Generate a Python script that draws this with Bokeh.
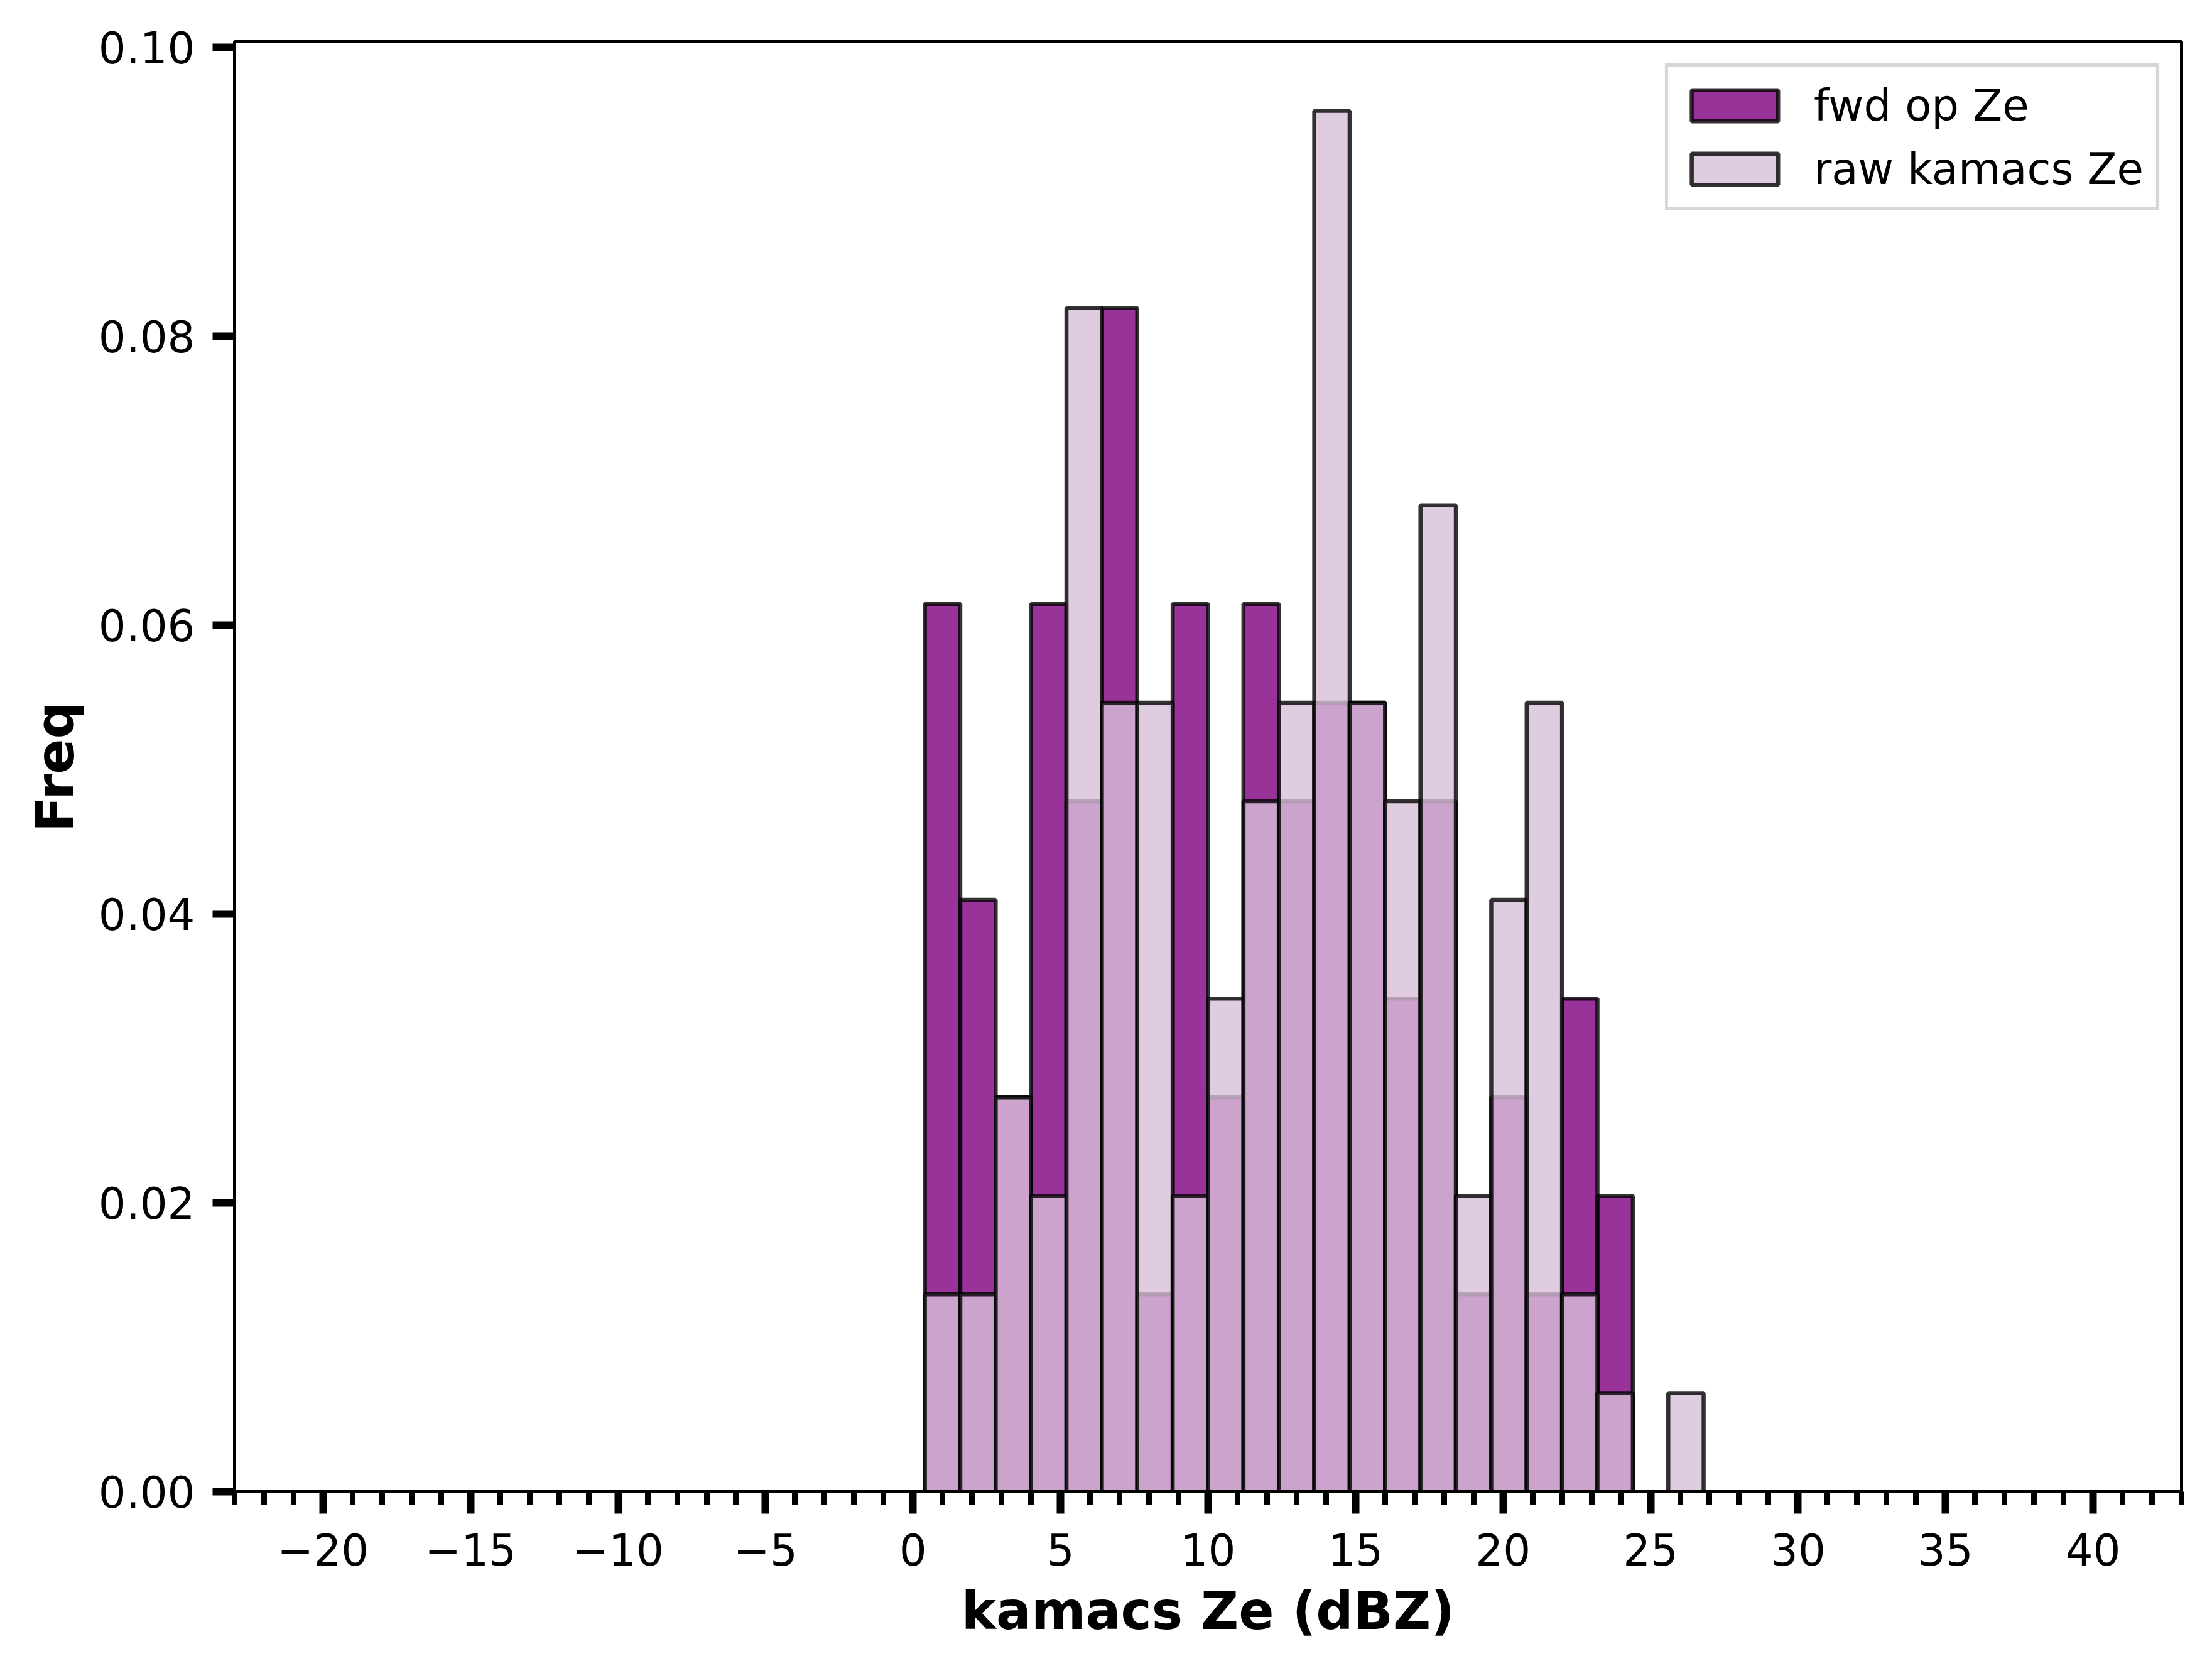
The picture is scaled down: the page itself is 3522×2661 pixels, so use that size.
from bokeh.plotting import figure
from bokeh.models import Range1d, FixedTicker, PrintfTickFormatter, ColumnDataSource
from bokeh.embed import file_html
from bokeh.resources import INLINE

# ---- data ----
bin_edges = [0.4, 1.6, 2.8, 4.0, 5.2, 6.4, 7.6, 8.8, 10.0, 11.2, 12.4, 13.6,
             14.8, 16.0, 17.2, 18.4, 19.6, 20.8, 22.0, 23.2, 24.4, 25.6, 26.8]
fwd_counts = [9, 6, 4, 9, 7, 12, 2, 9, 4, 9, 7, 8, 8, 5, 7, 2, 4, 2, 5, 3, 0, 0]
raw_counts = [2, 2, 4, 3, 12, 8, 8, 3, 5, 7, 8, 14, 8, 7, 10, 3, 6, 8, 2, 1, 0, 1]
x_major_ticks = [-20, -15, -10, -5, 0, 5, 10, 15, 20, 25, 30, 35, 40]
x_minor_ticks = list(range(-23, 44))
y_ticks = [0.0, 0.02, 0.04, 0.06, 0.08, 0.10]
series_labels = ["fwd op Ze", "raw kamacs Ze"]


def density_source(counts):
    total = sum(counts)
    left, right, top = [], [], []
    for i, c in enumerate(counts):
        if c == 0:
            continue
        w = bin_edges[i + 1] - bin_edges[i]
        left.append(bin_edges[i])
        right.append(bin_edges[i + 1])
        top.append(c / (total * w))
    return ColumnDataSource(dict(left=left, right=right, top=top, bottom=[0.0] * len(top)))


fwd_src = density_source(fwd_counts)
raw_src = density_source(raw_counts)
ymax = max(raw_src.data["top"] + fwd_src.data["top"]) * 1.05

p = figure(width=3506, height=2645, output_backend="svg", toolbar_location=None,
           x_range=Range1d(-23, 43), y_range=Range1d(0, ymax))
p.min_border_left = 373
p.min_border_right = 33
p.min_border_top = 66
p.min_border_bottom = 270
p.background_fill_color = "white"
p.border_fill_color = "white"
p.grid.visible = False
p.outline_line_color = "black"
p.outline_line_width = 5
p.outline_line_alpha = 1.0

p.quad(left="left", right="right", top="top", bottom="bottom", source=fwd_src,
       fill_color="purple", fill_alpha=0.8, line_color="black", line_alpha=0.8,
       line_width=6.5, legend_label=series_labels[0])
p.quad(left="left", right="right", top="top", bottom="bottom", source=raw_src,
       fill_color="thistle", fill_alpha=0.8, line_color="black", line_alpha=0.8,
       line_width=6.5, legend_label=series_labels[1])

# axes
xa = p.xaxis[0]
xa.ticker = FixedTicker(ticks=x_major_ticks, minor_ticks=x_minor_ticks)
xa.major_label_overrides = {t: (str(t).replace("-", "\u2212")) for t in x_major_ticks}
ya = p.yaxis[0]
ya.ticker = FixedTicker(ticks=y_ticks, minor_ticks=[])
ya.formatter = PrintfTickFormatter(format="%.2f")

for ax in (xa, ya):
    ax.axis_line_color = "black"
    ax.axis_line_width = 5
    ax.major_tick_line_width = 12
    ax.major_tick_out = 35
    ax.major_tick_in = 0
    ax.minor_tick_line_width = 9
    ax.minor_tick_out = 21
    ax.minor_tick_in = 0
    ax.major_label_text_font = "DejaVu Sans"
    ax.major_label_text_font_size = "69px"
    ax.major_label_text_color = "black"
    ax.axis_label_text_font = "DejaVu Sans"
    ax.axis_label_text_font_style = "bold"
    ax.axis_label_text_font_size = "83px"
    ax.axis_label_text_color = "black"

xa.axis_label = "kamacs Ze (dBZ)"
xa.major_label_standoff = 31
xa.axis_label_standoff = 21
ya.axis_label = "Freq"
ya.major_label_standoff = 28
ya.axis_label_standoff = 17

lg = p.legend[0]
lg.location = "top_right"
lg.margin = 35
lg.padding = 20
lg.spacing = 18
lg.glyph_width = 172
lg.glyph_height = 62
lg.label_standoff = 40
lg.label_height = 83
lg.label_text_font = "DejaVu Sans"
lg.label_text_font_size = "69px"
lg.label_text_color = "black"
lg.border_line_color = "#cccccc"
lg.border_line_alpha = 0.8
lg.border_line_width = 5
lg.background_fill_color = "white"
lg.background_fill_alpha = 0.8

open("out.html", "w").write(file_html(p, INLINE))
